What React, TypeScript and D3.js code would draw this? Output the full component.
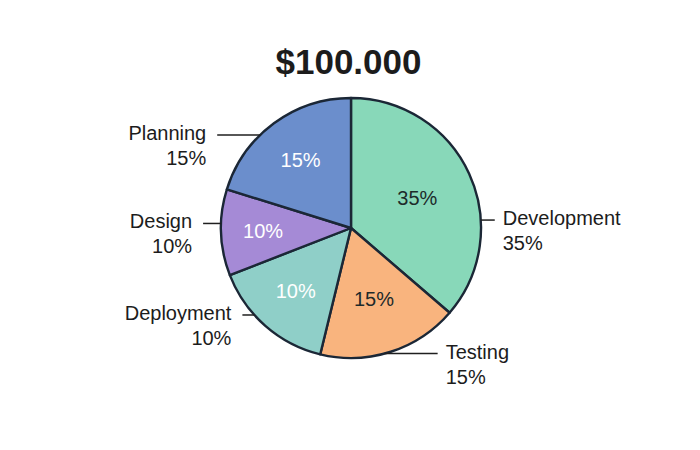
import React from "react";
import * as d3 from "d3";

const title = "$100.000";
const categories = ["Development", "Testing", "Deployment", "Design", "Planning"];
// angular shares as drawn in the picture
const shares = [36.3, 17.5, 15.3, 10.7, 20.2];
// percentage texts printed on the chart
const percentLabels = ["35%", "15%", "10%", "10%", "15%"];
const colors = ["#88d8b9", "#f9b47e", "#8fcfc8", "#a58ad6", "#6b8ecc"];
const innerTextColors = ["#1d2a2a", "#1d2a2a", "#ffffff", "#ffffff", "#ffffff"];

// layout: radius at which each inner label sits
const innerRadii = [73, 75, 84, 88, 85];
// outer label layout: angle of leader line on the rim (deg), line length
const leaderAngles = [86.5, 165, 228, 272, 315.7];
const leaderLengths = [14, 53, 12, 18, 43];

const W = 700;
const H = 450;
const cx = 351;
const cy = 228;
const R = 130;
const FONT = "'Liberation Sans', Arial, Helvetica, sans-serif";

export default function App() {
  const pie = d3.pie<number>().sort(null).value((d) => d);
  const arcs = pie(shares);
  const arc = d3.arc<d3.PieArcDatum<number>>().innerRadius(0).outerRadius(R);

  return (
    <svg
      width={W}
      height={H}
      viewBox={`0 0 ${W} ${H}`}
      style={{ position: "fixed", left: 0, top: 0, background: "#ffffff" }}
    >
      <text
        x={348.5}
        y={73.5}
        textAnchor="middle"
        fontFamily={FONT}
        fontWeight="bold"
        fontSize={35}
        fill="#1c1c1c"
      >
        {title}
      </text>
      <g transform={`translate(${cx},${cy})`}>
        {arcs.map((a, i) => (
          <path
            key={categories[i]}
            d={arc(a) || ""}
            fill={colors[i]}
            stroke="#1b2736"
            strokeWidth={2.4}
            strokeLinejoin="round"
          />
        ))}
        {arcs.map((a, i) => {
          const la = d3
            .arc<d3.PieArcDatum<number>>()
            .innerRadius(innerRadii[i])
            .outerRadius(innerRadii[i]);
          const [x, y] = la.centroid(a);
          return (
            <text
              key={"in" + i}
              x={x}
              y={y + 7}
              textAnchor="middle"
              fontFamily={FONT}
              fontSize={20}
              fill={innerTextColors[i]}
            >
              {percentLabels[i]}
            </text>
          );
        })}
        {categories.map((c, i) => {
          const t = (leaderAngles[i] * Math.PI) / 180;
          const ex = R * Math.sin(t);
          const ey = -R * Math.cos(t);
          const right = Math.sin(t) > 0;
          const lx = ex + (right ? leaderLengths[i] : -leaderLengths[i]);
          const tx = lx + (right ? 8 : -11);
          return (
            <g key={"out" + i}>
              <line x1={ex} y1={ey} x2={lx} y2={ey} stroke="#1f1f1f" strokeWidth={1.5} />
              <text
                x={tx}
                y={ey + 5}
                textAnchor={right ? "start" : "end"}
                fontFamily={FONT}
                fontSize={20}
                fill="#1c1c1c"
              >
                {c}
              </text>
              <text
                x={tx}
                y={ey + 30}
                textAnchor={right ? "start" : "end"}
                fontFamily={FONT}
                fontSize={20}
                fill="#1c1c1c"
              >
                {percentLabels[i]}
              </text>
            </g>
          );
        })}
      </g>
    </svg>
  );
}
